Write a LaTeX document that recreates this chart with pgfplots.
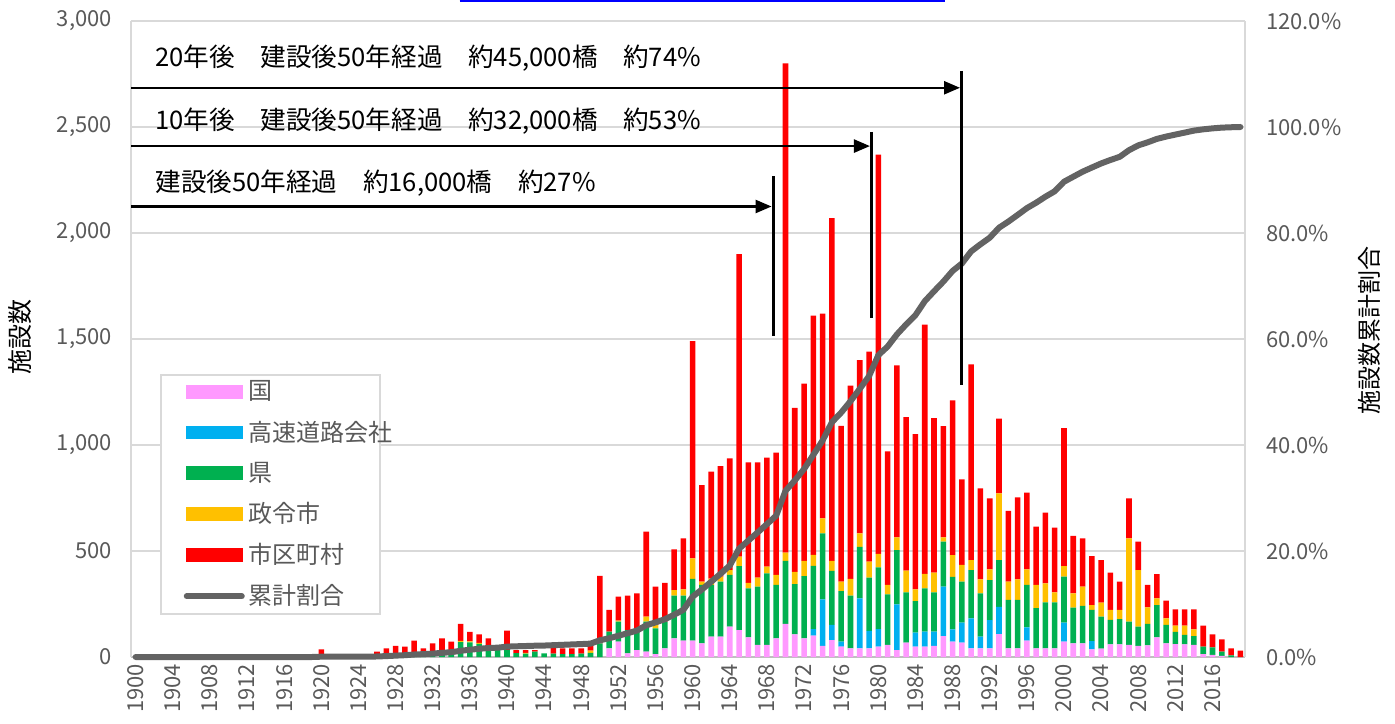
\documentclass[border=0pt]{standalone}
\usepackage{fontspec}
\setmainfont{Noto Sans CJK JP}
\usepackage{pgfplots}
\pgfplotsset{compat=1.18}
\usepackage{pgfplotstable}
\usetikzlibrary{arrows.meta}

\definecolor{ckuni}{RGB}{255,153,255}
\definecolor{ckosoku}{RGB}{0,176,240}
\definecolor{cken}{RGB}{0,176,80}
\definecolor{cseirei}{RGB}{255,192,0}
\definecolor{cshiku}{RGB}{255,0,0}
\definecolor{cline}{RGB}{99,99,99}
\definecolor{ctick}{RGB}{89,89,89}
\definecolor{cgrid}{RGB}{217,217,217}
\definecolor{caxis}{RGB}{191,191,191}
\definecolor{clink}{RGB}{0,0,255}

\newcommand{\legtxt}[1]{\makebox[52pt][l]{#1}}

\pgfplotstableread{
year kuni kosoku ken seirei shiku cum
1900 0 0 0 0 0 0
1901 0 0 0 0 0 0
1902 0 0 0 0 0 0
1903 0 0 0 0 0 0
1904 0 0 0 0 0 0
1905 0 0 0 0 0 0
1906 0 0 0 0 0 0
1907 0 0 0 0 0 0
1908 0 0 0 0 0 0
1909 0 0 0 0 0 0
1910 0 0 0 0 0 0
1911 0 0 0 0 0 0
1912 0 0 0 0 0 0
1913 0 0 0 0 0 0
1914 0 0 0 0 0 0
1915 0 0 0 0 0 0
1916 0 0 0 0 0 0
1917 0 0 0 0 0 0
1918 0 0 0 0 0 0
1919 0 0 0 0 0 0
1920 0 0 0 0 36 0.06
1921 0 0 0 0 0 0.06
1922 0 0 0 0 0 0.06
1923 0 0 0 0 0 0.06
1924 0 0 0 0 0 0.06
1925 0 0 0 0 0 0.06
1926 0 0 5 0 20 0.10
1927 0 0 6 0 35 0.17
1928 0 0 10 0 43 0.26
1929 0 0 9 0 40 0.34
1930 0 0 12 0 65 0.47
1931 0 0 8 0 33 0.54
1932 0 0 10 0 54 0.64
1933 0 0 13 0 75 0.79
1934 0 0 12 0 60 0.91
1935 0 0 70 6 80 1.17
1936 0 0 69 5 45 1.37
1937 0 0 62 5 40 1.55
1938 0 0 49 4 35 1.70
1939 0 0 36 0 0 1.76
1940 0 0 34 0 90 1.96
1941 0 0 18 0 15 2.02
1942 0 0 16 4 13 2.07
1943 0 0 25 0 8 2.13
1944 0 0 17 0 0 2.16
1945 0 0 16 0 30 2.23
1946 0 0 13 0 28 2.30
1947 0 0 13 0 28 2.37
1948 0 0 16 0 25 2.44
1949 0 0 20 10 22 2.52
1950 0 0 64 0 319 3.16
1951 41 0 79 0 102 3.53
1952 72 0 95 5 113 4.01
1953 17 0 110 0 163 4.49
1954 33 0 94 0 173 4.99
1955 25 0 142 23 401 5.98
1956 14 0 121 16 181 6.53
1957 41 0 126 0 183 7.12
1958 88 0 201 27 192 7.97
1959 77 0 212 30 241 8.90
1960 77 0 291 97 1025 11.39
1961 64 0 276 15 456 12.74
1962 96 0 244 30 504 14.20
1963 96 0 259 24 521 15.70
1964 143 0 244 23 527 17.26
1965 127 0 302 44 1427 20.43
1966 93 0 231 26 568 21.97
1967 57 0 275 42 544 23.50
1968 57 0 338 31 514 25.07
1969 88 0 252 47 577 26.67
1970 156 0 297 39 2308 31.35
1971 107 0 237 58 773 33.31
1972 88 0 294 71 836 35.46
1973 101 30 299 52 1128 38.14
1974 52 220 311 71 966 40.85
1975 80 71 255 47 1617 44.30
1976 49 23 239 44 735 46.12
1977 41 0 248 79 912 48.26
1978 41 236 243 63 817 50.59
1979 41 82 251 76 990 52.99
1980 49 82 292 63 1884 56.95
1981 57 0 239 44 630 58.57
1982 33 215 256 60 811 60.86
1983 68 0 237 102 724 62.75
1984 49 66 149 55 732 64.50
1985 49 71 204 68 1176 67.12
1986 52 68 185 93 729 69.00
1987 99 233 212 20 525 70.82
1988 72 58 248 102 731 72.84
1989 68 94 193 79 404 74.24
1990 41 141 228 47 923 76.54
1991 41 55 204 66 429 77.86
1992 41 133 189 50 335 79.11
1993 108 129 220 315 353 80.99
1994 41 0 228 86 334 82.14
1995 41 0 228 97 387 83.40
1996 77 63 200 73 362 84.69
1997 41 0 189 110 275 85.71
1998 41 0 217 89 334 86.85
1999 41 0 217 47 305 87.87
2000 72 90 217 50 651 89.67
2001 64 0 169 67 271 90.62
2002 64 0 177 91 228 91.56
2003 36 39 147 23 231 92.35
2004 40 0 150 66 201 93.12
2005 60 0 115 47 176 93.78
2006 60 0 119 43 133 94.37
2007 57 0 110 393 188 95.62
2008 52 0 91 267 134 96.53
2009 55 0 101 78 106 97.10
2010 93 0 152 32 114 97.75
2011 64 0 87 31 84 98.19
2012 61 0 58 29 77 98.57
2013 60 0 44 44 77 98.94
2014 57 0 42 31 95 99.32
2015 14 0 35 0 99 99.56
2016 10 0 36 0 61 99.74
2017 5 0 20 0 58 99.88
2018 0 0 8 0 33 99.95
2019 0 0 0 0 30 100.00
}\datatable

\begin{document}
\begin{tikzpicture}
\begin{axis}[name=ax, scale only axis, width=557pt, height=318pt,
  xmin=1899.5, xmax=2019.5, ymin=0, ymax=3000,
  ybar stacked, bar width=0.6,
  axis x line*=bottom, axis y line*=left,
  axis line style={draw=cgrid, line width=0.8pt},
  x axis line style={draw=caxis},
  ymajorgrids, grid style={draw=cgrid, line width=0.8pt},
  tick style={draw=none}, major tick length=0pt,
  ytick={0,500,1000,1500,2000,2500,3000},
  yticklabels={0,500,{1,000},{1,500},{2,000},{2,500},{3,000}},
  yticklabel style={font=\fontsize{11pt}{13pt}\selectfont, text=ctick, xshift=-6pt},
  xtick={1900,1904,1908,1912,1916,1920,1924,1928,1932,1936,1940,1944,1948,1952,1956,1960,1964,1968,1972,1976,1980,1984,1988,1992,1996,2000,2004,2008,2012,2016},
  xticklabels={1900,1904,1908,1912,1916,1920,1924,1928,1932,1936,1940,1944,1948,1952,1956,1960,1964,1968,1972,1976,1980,1984,1988,1992,1996,2000,2004,2008,2012,2016},
  xticklabel style={rotate=90, anchor=east, font=\fontsize{11pt}{13pt}\selectfont, text=ctick},
  ylabel={施設数},
  every axis y label/.style={at={(axis description cs:-0.0995,0.503)}, rotate=90, anchor=center, font=\fontsize{12.5pt}{14pt}\selectfont},
]
\addplot[fill=ckuni, draw=none] table[x=year, y=kuni]{\datatable};
\addplot[fill=ckosoku, draw=none] table[x=year, y=kosoku]{\datatable};
\addplot[fill=cken, draw=none] table[x=year, y=ken]{\datatable};
\addplot[fill=cseirei, draw=none] table[x=year, y=seirei]{\datatable};
\addplot[fill=cshiku, draw=none] table[x=year, y=shiku]{\datatable};
\end{axis}

\begin{axis}[scale only axis, width=557pt, height=318pt,
  xmin=1899.5, xmax=2019.5, ymin=0, ymax=120, clip=false,
  axis x line=none, axis y line*=right,
  axis line style={draw=cgrid, line width=0.8pt},
  tick style={draw=none}, major tick length=0pt,
  ytick={0,20,40,60,80,100,120},
  yticklabels={0.0\%,20.0\%,40.0\%,60.0\%,80.0\%,100.0\%,120.0\%},
  yticklabel style={font=\fontsize{11pt}{13pt}\selectfont, text=ctick, xshift=7pt},
  ylabel={施設数累計割合},
  every axis y label/.style={at={(axis description cs:1.112,0.514)}, rotate=90, anchor=center, font=\fontsize{12pt}{14pt}\selectfont},
  legend cell align=left,
  legend style={at={(0.026,0.445)}, anchor=north west, draw=cgrid, line width=0.8pt, fill=white,
    font=\fontsize{12pt}{14pt}\selectfont, text=ctick, inner xsep=11.5pt, inner ysep=1pt, row sep=5pt},
]
\addlegendimage{legend image code/.code={\fill[ckuni] (0pt,-3pt) rectangle (27.5pt,3pt);}}
\addlegendentry{\legtxt{国}}
\addlegendimage{legend image code/.code={\fill[ckosoku] (0pt,-3pt) rectangle (27.5pt,3pt);}}
\addlegendentry{\legtxt{高速道路会社}}
\addlegendimage{legend image code/.code={\fill[cken] (0pt,-3pt) rectangle (27.5pt,3pt);}}
\addlegendentry{\legtxt{県}}
\addlegendimage{legend image code/.code={\fill[cseirei] (0pt,-3pt) rectangle (27.5pt,3pt);}}
\addlegendentry{\legtxt{政令市}}
\addlegendimage{legend image code/.code={\fill[cshiku] (0pt,-3pt) rectangle (27.5pt,3pt);}}
\addlegendentry{\legtxt{市区町村}}
\addplot[cline, line width=3pt, line join=round, line cap=round, mark=none,
  legend image code/.code={\draw[cline, line width=3pt] (0pt,0pt) -- (27.5pt,0pt);}]
  table[x=year, y=cum]{\datatable};
\addlegendentry{\legtxt{累計割合}}

% annotations
\draw[black, line width=1.2pt, -{Triangle[length=8pt,width=6.5pt]}] (axis cs:1899.5,85.0) -- (axis cs:1968.5,85.0);
\draw[black, line width=1.5pt] (axis cs:1968.7,90.7) -- (axis cs:1968.7,60.5);
\draw[black, line width=1.2pt, -{Triangle[length=8pt,width=6.5pt]}] (axis cs:1899.5,96.4) -- (axis cs:1979.1,96.4);
\draw[black, line width=1.5pt] (axis cs:1979.3,99.1) -- (axis cs:1979.3,64.0);
\draw[black, line width=1.2pt, -{Triangle[length=8pt,width=6.5pt]}] (axis cs:1899.5,107.4) -- (axis cs:1988.8,107.4);
\draw[black, line width=1.5pt] (axis cs:1989.0,110.6) -- (axis cs:1989.0,51.3);
\node[anchor=west, inner sep=0pt, font=\fontsize{12.8pt}{15pt}\selectfont] at (axis cs:1902.1,89.4) {建設後50年経過　約16,000橋　約27\%};
\node[anchor=west, inner sep=0pt, font=\fontsize{12.8pt}{15pt}\selectfont] at (axis cs:1902.1,101.1) {10年後　建設後50年経過　約32,000橋　約53\%};
\node[anchor=west, inner sep=0pt, font=\fontsize{12.8pt}{15pt}\selectfont] at (axis cs:1902.1,113.0) {20年後　建設後50年経過　約45,000橋　約74\%};
\draw[clink, line width=1pt] (axis cs:1934.9,123.7) -- (axis cs:1987.2,123.7);
\end{axis}
\pgfresetboundingbox
\path[use as bounding box] ([shift={(-65.5pt,-33pt)}]ax.south west) rectangle ([shift={(75pt,10.5pt)}]ax.north east);
\end{tikzpicture}
\end{document}
